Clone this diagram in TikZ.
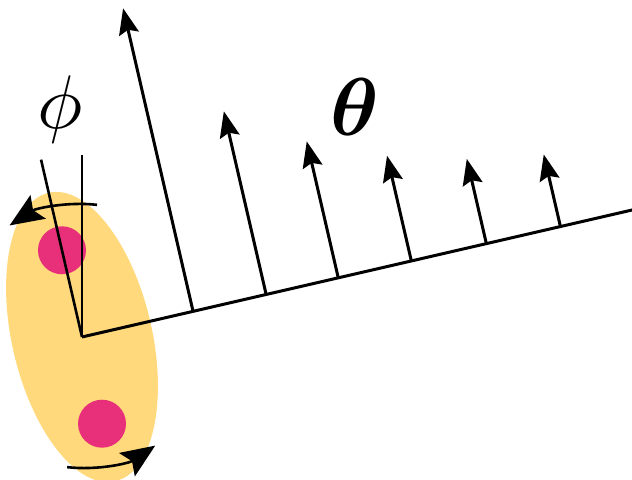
\documentclass[tikz,border=0pt]{standalone}
\usetikzlibrary{arrows.meta, calc}
\usepackage{amsmath}
\usepackage{amssymb}

\begin{document}
\begin{tikzpicture}[
    x=1pt, y=1pt, scale=0.5,
    vec/.style={-{Stealth[length=13pt, width=10pt, inset=2pt]}, line width=1.5pt},
    spin/.style={-{Stealth[length=17pt, width=14pt, inset=3pt]}, line width=1.3pt},
]

\definecolor{c1}{HTML}{FFD97B}   % the molecule
\definecolor{c2}{HTML}{E8307A}   % the atoms

\def\tilt{13}        % angle of the chain
\def\perp{103}       % normal to the chain

\useasboundingbox (-82,-143) rectangle (550,337);

% ---------------------------------------------------------------- molecule
\fill[c1, rotate=\perp] (0,0) ellipse (148 and 70);
\fill[c2] (\perp:89) circle (24);
\fill[c2] (\perp+180:89) circle (24);

% ---------------------------------------------------------------- axes
\coordinate (o) at (0,0);
\coordinate (up) at (90:182);
\coordinate (ax) at (\perp:182);
\coordinate (end) at (\tilt:565);
\draw[line width=1.3pt] (o) -- (up);
\draw[line width=1.3pt] (o) -- (ax);
\draw[line width=1.5pt] (o) -- (end);

% rotation about the origin
\draw[spin] (83.5:133) arc (83.5:123:133);
\draw[spin] (263.5:131) arc (263.5:304:131);

\node[scale=3.8] (phi) at (-22,227) {$\phi$};

% ---------------------------------------------------------------- field
\foreach \i/\d/\len in {1/114/311, 2/189/188, 3/263/140, 4/338/108, 5/415/87, 6/491/74} {
  \coordinate (b\i) at (\tilt:\d);
  \coordinate (t\i) at ($(b\i)+(\perp:\len)$);
  \draw[vec] (b\i) -- (t\i);
}

\node[scale=4.1] (theta) at (273,230) {$\boldsymbol{\theta}$};

\end{tikzpicture}
\end{document}
